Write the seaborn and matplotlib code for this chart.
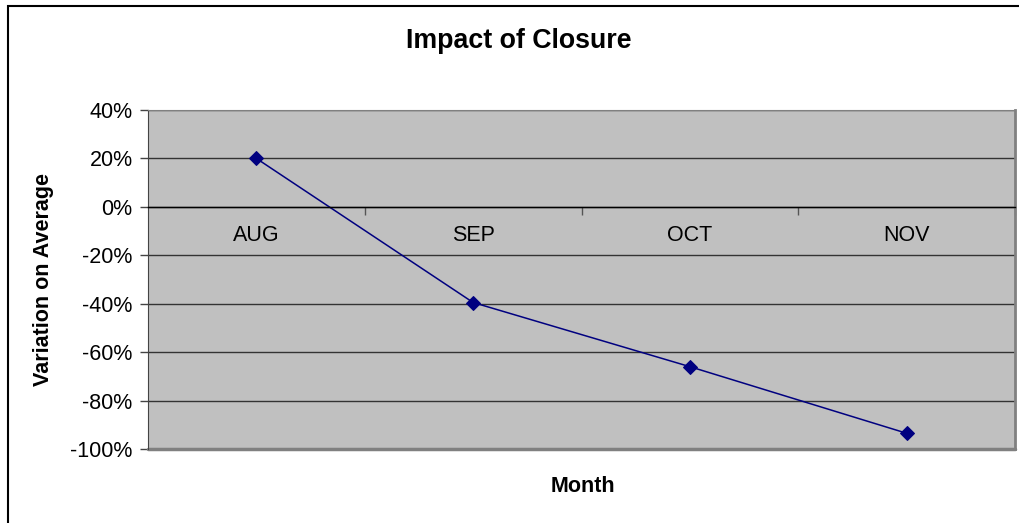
import matplotlib
matplotlib.use("Agg")
import matplotlib.pyplot as plt
import matplotlib.patches as patches
from matplotlib.ticker import PercentFormatter, FixedLocator
import pandas as pd
import seaborn as sns

# data
months = ["AUG", "SEP", "OCT", "NOV"]
variation = [0.20, -0.395, -0.66, -0.935]
y_ticks = [0.4, 0.2, 0.0, -0.2, -0.4, -0.6, -0.8, -1.0]


def set_config():
    sns.set_style("white")
    plt.rcParams["font.family"] = ["Liberation Sans", "DejaVu Sans"]
    plt.rcParams["axes.unicode_minus"] = False
    for key in ["text.color", "axes.labelcolor", "xtick.color", "ytick.color"]:
        plt.rcParams[key] = "#000000"


def draw_chart():
    df = pd.DataFrame({"month": months, "variation": variation})

    fig = plt.figure(figsize=(10.19, 5.23), dpi=100)
    ax = fig.add_axes([148 / 1019, 1 - 449 / 523, 867 / 1019, 339 / 523])
    ax.set_facecolor("#C0C0C0")

    sns.lineplot(data=df, x="month", y="variation", ax=ax, color="#000080",
                 marker="D", markersize=7, markeredgecolor="#000080", linewidth=1.1,
                 sort=False)

    ax.set_xlim(-0.5, 3.5)
    ax.set_ylim(-1.0, 0.4)
    ax.yaxis.set_major_locator(FixedLocator(y_ticks))
    ax.yaxis.set_major_formatter(PercentFormatter(1.0, decimals=0))
    ax.grid(axis="y", color="#333333", linewidth=1.0)
    ax.set_axisbelow(True)

    # x axis sits on the zero line, labels below it
    ax.spines["bottom"].set_position(("data", 0))
    ax.spines["bottom"].set_color("#000000")
    ax.spines["bottom"].set_linewidth(1.0)
    ax.spines["left"].set_color("#444444")
    ax.spines["top"].set_visible(True)
    ax.spines["right"].set_visible(True)
    ax.spines["top"].set_color("#808080")
    ax.spines["right"].set_color("#808080")
    ax.spines["right"].set_linewidth(2)
    # frame bottom edge
    ax.axhline(-1.0, color="#808080", linewidth=2.5, clip_on=False)

    ax.xaxis.set_minor_locator(FixedLocator([0.5, 1.5, 2.5, 3.5]))
    ax.tick_params(axis="x", which="major", bottom=False, length=0, pad=13,
                   labelsize=15.5, labelcolor="#000000")
    ax.tick_params(axis="x", which="minor", bottom=True, length=6, width=1,
                   color="#555555", direction="out")
    ax.tick_params(axis="y", which="major", length=6, width=1, color="#444444",
                   labelsize=15.5, labelcolor="#000000", left=True, pad=5)

    ax.set_xlabel("")
    ax.set_ylabel("")
    fig.text(583 / 1019, 1 - 487 / 523, "Month", ha="center", va="center",
             fontsize=15.5, fontweight="bold", color="#000000")
    fig.text(44 / 1019, 1 - 280 / 523, "Variation on Average", ha="center", va="center",
             rotation=90, fontsize=15.5, fontweight="bold", color="#000000")
    fig.text(519 / 1019, 1 - 41 / 523, "Impact of Closure", ha="center", va="center",
             fontsize=19.3, fontweight="bold", color="#000000")

    # chart area border
    border = patches.Rectangle((7.5 / 1019, -0.1), 1.2, 1 - 5.5 / 523 + 0.1,
                               transform=fig.transFigure, fill=False,
                               edgecolor="#000000", linewidth=1.5)
    fig.patches.append(border)

    fig.savefig("out.png", dpi=100)


if __name__ == "__main__":
    set_config()
    draw_chart()
